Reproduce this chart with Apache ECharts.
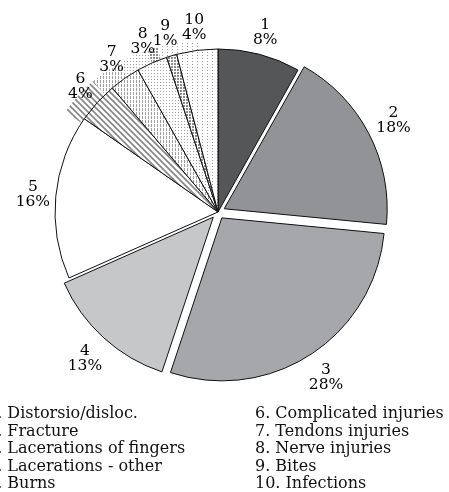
<!DOCTYPE html>
<html>
<head>
<meta charset="utf-8">
<script src="https://cdn.jsdelivr.net/npm/echarts@6/dist/echarts.min.js"></script>
<style>
  html, body { margin: 0; padding: 0; background: #fff; }
  #main { width: 449px; height: 492px; }
</style>
</head>
<body>
<div id="main"></div>
<script>
const categories = ['Distorsio/disloc.', 'Fracture', 'Lacerations of fingers', 'Lacerations - other', 'Burns',
  'Complicated injuries', 'Tendons injuries', 'Nerve injuries', 'Bites', 'Infections'];
const shares = [8, 18, 28, 13, 16, 4, 3, 3, 1, 4];
const exploded = [false, true, true, true, false, false, false, false, false, false];

const FONT = '"DejaVu Serif", serif';

function tile(w, h, draw) {
  const c = document.createElement('canvas');
  c.width = w; c.height = h;
  const g = c.getContext('2d');
  g.fillStyle = '#fff';
  g.fillRect(0, 0, w, h);
  draw(g);
  return { image: c, repeat: 'repeat' };
}

// fills for the slices, 1..5 flat greys, 6..10 hatched
const fills = [
  '#555657',
  '#929396',
  '#a6a7aa',
  '#c6c7c9',
  '#ffffff',
  tile(6, 6, g => {
    g.strokeStyle = '#888'; g.lineWidth = 1.7;
    g.beginPath();
    g.moveTo(-1, -1); g.lineTo(7, 7);
    g.moveTo(-4, 2); g.lineTo(2, 8);
    g.moveTo(4, -2); g.lineTo(8, 2);
    g.stroke();
  }),
  tile(3, 4, g => { g.fillStyle = '#a0a0a0'; g.fillRect(1, 0, 1, 3); }),
  tile(3, 3, g => { g.fillStyle = '#a0a0a0'; g.fillRect(1, 1, 1, 1); }),
  tile(3, 3, g => { g.fillStyle = '#8c8c8c'; g.fillRect(0, 0, 2, 2); }),
  tile(5, 3, g => { g.fillStyle = '#9e9e9e'; g.fillRect(2, 1, 1, 1); })
];

const mainData = shares.map((v, i) => ({
  name: String(i + 1),
  value: v,
  selected: exploded[i],
  itemStyle: { color: fills[i] }
}));

// shifted copy of the patterned slices, peeking out behind the pie
const backData = shares.map((v, i) => ({
  name: String(i + 1),
  value: v,
  itemStyle: { color: i >= 5 ? fills[i] : 'transparent' }
}));

const labelData = shares.map((v, i) => ({
  name: String(i + 1),
  value: v,
  selected: exploded[i]
}));

const chart = echarts.init(document.getElementById('main'));
chart.setOption({
  animation: false,
  backgroundColor: '#fff',
  series: [
    {
      type: 'pie',
      center: [199, 205],
      radius: 163,
      startAngle: 90,
      silent: true,
      label: { show: false },
      labelLine: { show: false },
      itemStyle: { borderWidth: 0 },
      emphasis: { disabled: true },
      data: backData
    },
    {
      type: 'pie',
      center: [218, 212],
      radius: 163,
      startAngle: 90,
      selectedMode: 'multiple',
      selectedOffset: 7,
      silent: true,
      label: { show: false },
      labelLine: { show: false },
      itemStyle: { borderColor: '#111', borderWidth: 1 },
      emphasis: { disabled: true },
      select: { itemStyle: { borderColor: '#111', borderWidth: 1 } },
      data: mainData
    },
    {
      type: 'pie',
      center: [218, 212],
      radius: 163,
      startAngle: 90,
      selectedMode: 'multiple',
      selectedOffset: 12,
      silent: true,
      avoidLabelOverlap: false,
      itemStyle: { color: 'transparent' },
      emphasis: { disabled: true },
      labelLine: { show: false, length: 23, length2: 0 },
      labelLayout: { align: 'center', verticalAlign: 'middle', hideOverlap: false },
      label: {
        show: true,
        position: 'outside',
        distanceToLabelLine: 0,
        color: '#000',
        fontFamily: FONT,
        fontSize: 15.5,
        lineHeight: 15,
        formatter: p => p.name + '\n' + p.value + '%'
      },
      data: labelData
    }
  ],
  graphic: [
    {
      type: 'text',
      left: -13,
      top: 405,
      style: {
        text: categories.slice(0, 5).map((c, i) => (i + 1) + '. ' + c).join('\n'),
        font: '16px ' + FONT,
        lineHeight: 17.6,
        fill: '#111'
      }
    },
    {
      type: 'text',
      left: 255,
      top: 405,
      style: {
        text: categories.slice(5).map((c, i) => (i + 6) + '. ' + c).join('\n'),
        font: '16px ' + FONT,
        lineHeight: 17.6,
        fill: '#111'
      }
    }
  ]
});
</script>
</body>
</html>
